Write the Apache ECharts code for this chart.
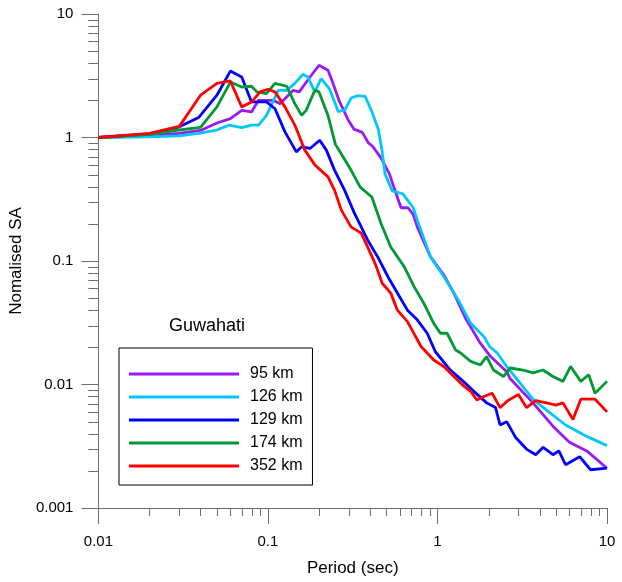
<!DOCTYPE html>
<html>
<head>
<meta charset="utf-8">
<script src="https://cdn.jsdelivr.net/npm/echarts@6/dist/echarts.min.js"></script>
<style>
  html, body { margin: 0; padding: 0; background: #fff; }
  #main { width: 622px; height: 582px; }
</style>
</head>
<body>
<div id="main"></div>
<script>
// Periods (sec) and normalised SA, one pair of arrays per distance
const names = ["95 km", "126 km", "129 km", "174 km", "352 km"];
const colors = ["#9b19f5", "#00c8ff", "#0000ff", "#009933", "#ff0000"];

const t95 = [0.01, 0.02, 0.03, 0.04, 0.05, 0.06, 0.07, 0.08, 0.088, 0.107, 0.118, 0.141, 0.153, 0.177, 0.2, 0.226, 0.237, 0.264, 0.298, 0.321, 0.36, 0.39, 0.414, 0.465, 0.52, 0.57, 0.61, 0.67, 0.72, 0.76, 0.91, 1.09, 1.25, 1.48, 1.79, 2.03, 2.56, 2.68, 3.66, 4.8, 6.0, 7.6, 10];
const sa95 = [1.0, 1.03, 1.08, 1.14, 1.31, 1.42, 1.66, 1.61, 2.0, 2.0, 1.88, 2.41, 2.34, 3.09, 3.84, 3.5, 2.97, 1.96, 1.38, 1.17, 1.1, 0.91, 0.85, 0.68, 0.51, 0.35, 0.27, 0.27, 0.237, 0.189, 0.108, 0.077, 0.055, 0.0334, 0.0216, 0.0172, 0.0127, 0.0112, 0.0071, 0.0046, 0.0034, 0.0029, 0.0021];

const t126 = [0.01, 0.02, 0.03, 0.039, 0.05, 0.059, 0.07, 0.08, 0.088, 0.098, 0.115, 0.129, 0.144, 0.161, 0.172, 0.189, 0.206, 0.23, 0.26, 0.284, 0.31, 0.34, 0.375, 0.41, 0.447, 0.47, 0.49, 0.54, 0.625, 0.72, 0.76, 0.91, 1.09, 1.33, 1.57, 1.88, 2.03, 2.25, 2.56, 3.66, 4.4, 5.7, 7.6, 10];
const sa126 = [1.0, 1.01, 1.03, 1.08, 1.15, 1.26, 1.2, 1.26, 1.26, 1.51, 2.41, 2.41, 2.74, 3.25, 3.09, 2.34, 3.0, 2.49, 1.62, 1.67, 2.09, 2.18, 2.15, 1.62, 1.17, 0.8, 0.51, 0.37, 0.35, 0.27, 0.214, 0.108, 0.0746, 0.048, 0.0313, 0.0244, 0.0203, 0.018, 0.014, 0.0076, 0.0062, 0.0047, 0.0038, 0.0032];

const t129 = [0.01, 0.02, 0.03, 0.039, 0.05, 0.06, 0.07, 0.08, 0.098, 0.11, 0.126, 0.147, 0.158, 0.177, 0.202, 0.221, 0.247, 0.283, 0.324, 0.355, 0.387, 0.444, 0.51, 0.58, 0.665, 0.76, 0.87, 0.97, 1.19, 1.42, 1.64, 1.95, 2.2, 2.34, 2.56, 2.9, 3.35, 3.8, 4.2, 4.8, 5.2, 5.7, 6.9, 8.0, 10];
const sa129 = [1.0, 1.07, 1.22, 1.45, 2.2, 3.45, 3.09, 1.94, 1.94, 1.71, 1.11, 0.765, 0.84, 0.815, 0.95, 0.79, 0.544, 0.375, 0.243, 0.189, 0.148, 0.108, 0.0746, 0.055, 0.04, 0.0334, 0.026, 0.0185, 0.0131, 0.0106, 0.0088, 0.0071, 0.0065, 0.0047, 0.005, 0.0037, 0.003, 0.0027, 0.0031, 0.0027, 0.0029, 0.00224, 0.0026, 0.00204, 0.0021];

const t174 = [0.01, 0.02, 0.03, 0.04, 0.05, 0.06, 0.07, 0.08, 0.086, 0.098, 0.11, 0.129, 0.144, 0.158, 0.168, 0.189, 0.2, 0.226, 0.237, 0.25, 0.284, 0.31, 0.35, 0.41, 0.465, 0.53, 0.636, 0.728, 0.83, 0.95, 1.04, 1.14, 1.28, 1.37, 1.57, 1.79, 1.95, 2.14, 2.45, 2.68, 3.2, 3.66, 4.19, 4.8, 5.5, 6.1, 7.0, 7.8, 8.5, 10];
const sa174 = [1.0, 1.06, 1.15, 1.21, 1.77, 2.81, 2.56, 2.6, 2.34, 2.27, 2.74, 2.6, 1.88, 1.51, 1.66, 2.41, 2.34, 1.51, 1.17, 0.88, 0.66, 0.54, 0.396, 0.33, 0.2, 0.13, 0.09, 0.062, 0.0455, 0.0313, 0.026, 0.026, 0.019, 0.018, 0.0154, 0.0144, 0.0168, 0.0131, 0.0116, 0.0136, 0.0131, 0.0124, 0.0131, 0.0116, 0.0106, 0.014, 0.0106, 0.012, 0.0085, 0.0106];

const t352 = [0.01, 0.02, 0.03, 0.04, 0.05, 0.06, 0.07, 0.08, 0.09, 0.1, 0.11, 0.126, 0.144, 0.165, 0.189, 0.226, 0.247, 0.271, 0.309, 0.355, 0.387, 0.432, 0.472, 0.53, 0.58, 0.665, 0.8, 0.95, 1.09, 1.25, 1.43, 1.57, 1.71, 1.88, 2.1, 2.34, 2.6, 3.0, 3.35, 3.8, 4.4, 5.0, 5.5, 6.3, 7.0, 8.5, 10];
const sa352 = [1.0, 1.08, 1.23, 2.2, 2.74, 2.87, 1.77, 1.94, 2.34, 2.46, 2.34, 1.77, 1.26, 0.79, 0.6, 0.48, 0.375, 0.258, 0.189, 0.168, 0.13, 0.093, 0.066, 0.055, 0.04, 0.0323, 0.0203, 0.0158, 0.014, 0.0116, 0.0097, 0.0088, 0.0075, 0.008, 0.0085, 0.0065, 0.0074, 0.0083, 0.0065, 0.0074, 0.0071, 0.0068, 0.0071, 0.0052, 0.0076, 0.0076, 0.006];

const periods = [t95, t126, t129, t174, t352];
const values = [sa95, sa126, sa129, sa174, sa352];

const axisGray = "#6f6f6f";
const font = "Liberation Sans, Arial, sans-serif";
const fmt = (v) => String(parseFloat(Number(v).toPrecision(6)));

const chart = echarts.init(document.getElementById("main"));

chart.setOption({
  animation: false,
  backgroundColor: "#fff",
  grid: { left: 96, right: 15, top: 14, bottom: 72 },
  title: {
    text: "Guwahati",
    left: 169,
    top: 317,
    padding: 0,
    textStyle: { fontFamily: font, fontSize: 18, fontWeight: "normal", color: "#000" },
  },
  legend: {
    orient: "vertical",
    left: 119,
    top: 348,
    padding: [18, 10, 11, 10],
    borderColor: "#000",
    borderWidth: 1,
    icon: "rect",
    itemWidth: 110,
    itemHeight: 3,
    itemGap: 7,
    data: names,
    formatter: (name) => "{t|" + name + "}",
    textStyle: {
      fontFamily: font,
      fontSize: 16,
      color: "#000",
      rich: { t: { fontFamily: font, fontSize: 16, lineHeight: 18, padding: [0, 0, 0, 6], color: "#000" } },
    },
  },
  xAxis: {
    type: "log",
    logBase: 10,
    min: 0.01,
    max: 10,
    interval: 1,
    name: "Period (sec)",
    nameLocation: "middle",
    nameGap: 52,
    nameTextStyle: { fontFamily: font, fontSize: 17, color: "#000" },
    axisLine: { lineStyle: { color: axisGray, width: 1 } },
    axisTick: { length: 16, lineStyle: { color: axisGray } },
    axisLabel: { margin: 26, fontFamily: font, fontSize: 15, color: "#000", formatter: fmt },
    splitLine: { show: false },
  },
  yAxis: {
    type: "log",
    logBase: 10,
    min: 0.001,
    max: 10,
    interval: 1,
    name: "Nomalised SA",
    nameLocation: "middle",
    nameGap: 63,
    nameTextStyle: { fontFamily: font, fontSize: 17, color: "#000" },
    axisLine: { show: true, lineStyle: { color: axisGray, width: 1 } },
    axisTick: { show: true, length: 17, lineStyle: { color: axisGray } },
    axisLabel: { margin: 25, fontFamily: font, fontSize: 15, color: "#000", formatter: fmt },
    splitLine: { show: false },
  },
  series: names.map((name, i) => ({
    name,
    type: "line",
    data: periods[i].map((t, j) => [t, values[i][j]]),
    symbol: "none",
    smooth: false,
    color: colors[i],
    lineStyle: { color: colors[i], width: 2.8 },
    emphasis: { disabled: true },
  })),
});

// Minor ticks at 2..9 within each decade, placed through the axes' own scales
const x0 = chart.convertToPixel({ xAxisIndex: 0 }, 0.01);
const y0 = chart.convertToPixel({ yAxisIndex: 0 }, 0.001);
const minor = [];
for (let e = -2; e < 1; e++) {
  for (let k = 2; k <= 9; k++) {
    const x = Math.round(chart.convertToPixel({ xAxisIndex: 0 }, k * Math.pow(10, e))) + 0.5;
    minor.push({
      type: "line",
      silent: true,
      shape: { x1: x, y1: y0, x2: x, y2: y0 + 8 },
      style: { stroke: axisGray, lineWidth: 1 },
    });
  }
}
for (let e = -3; e < 1; e++) {
  for (let k = 2; k <= 9; k++) {
    const y = Math.round(chart.convertToPixel({ yAxisIndex: 0 }, k * Math.pow(10, e))) + 0.5;
    minor.push({
      type: "line",
      silent: true,
      shape: { x1: x0 - 10, y1: y, x2: x0, y2: y },
      style: { stroke: axisGray, lineWidth: 1 },
    });
  }
}
chart.setOption({ graphic: minor });
</script>
</body>
</html>
